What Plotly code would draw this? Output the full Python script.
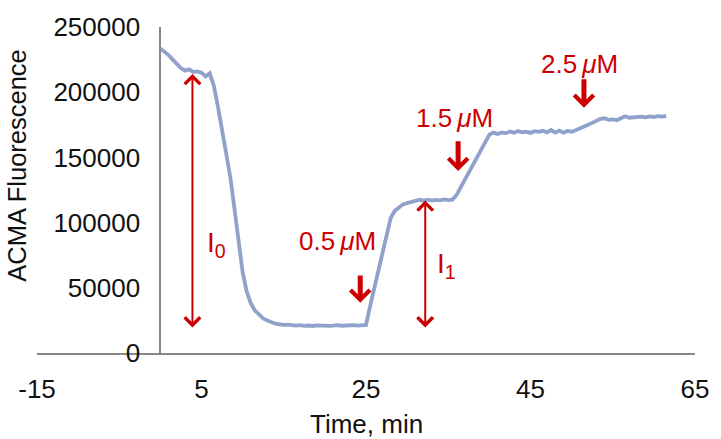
import plotly.graph_objects as go

# ---------------------------------------------------------------------------
# Dados
# ---------------------------------------------------------------------------
tempo = [
    0, 0.5, 1, 1.5, 2, 2.5, 3, 3.5, 4, 4.5, 5, 5.5, 6, 6.5, 7, 7.5, 8, 8.5, 9, 9.5,
    10, 10.5, 11, 11.5, 12, 12.5, 13, 13.5, 14, 14.5, 15, 15.5, 16, 16.5, 17, 17.5,
    18, 18.5, 19, 19.5, 20, 20.5, 21, 21.5, 22, 22.5, 23, 23.5, 24, 24.5, 25, 25.5,
    26, 26.5, 27, 27.5, 28, 28.5, 29, 29.5, 30, 30.5, 31, 31.5, 32, 32.5, 33, 33.5,
    34, 34.5, 35, 35.5, 36, 36.5, 37, 37.5, 38, 38.5, 39, 39.5, 40, 40.5, 41, 41.5,
    42, 42.5, 43, 43.5, 44, 44.5, 45, 45.5, 46, 46.5, 47, 47.5, 48, 48.5, 49, 49.5,
    50, 50.5, 51, 51.5, 52, 52.5, 53, 53.5, 54, 54.5, 55, 55.5, 56, 56.5, 57, 57.5,
    58, 58.5, 59, 59.5, 60, 60.5, 61, 61.5,
]
fluorescencia = [
    233500, 231000, 228500, 225000, 221500, 218500, 216500, 217500, 215500, 216000,
    215000, 212000, 214500, 205000, 189000, 171000, 155000, 135000, 111000, 86000,
    62000, 47000, 38000, 32500, 29000, 26500, 25000, 23500, 22500, 22000,
    21500, 21800, 21200, 21000, 21400, 20800, 21100, 20700, 21200, 20900,
    21300, 20800, 21000, 21400, 20900, 21200, 20800, 21300, 21000, 21400,
    21500, 36000, 50000, 64000, 78000, 92000, 103500, 109000, 112000, 114000,
    115000, 116000, 116500, 117500, 116800, 117600, 116900, 117400, 117000, 117800,
    117200, 117600, 121000, 127000, 133000, 139000, 145000, 151000, 157000, 163000,
    167500, 169000, 168000, 169200, 168600, 169800, 168900, 170200, 169300, 169800,
    168800, 170100, 169600, 170400, 169100, 171000, 169000, 170500, 168900, 170300,
    169700, 170800, 172000, 173500, 175000, 176500, 178000, 179500, 180000, 178800,
    179200, 178500, 180000, 181500, 180400, 180800, 180600, 181200, 180700, 181400,
    181000, 181600, 181300, 181800,
]

x_ticks = [-15, 5, 25, 45, 65]
y_ticks = [0, 50000, 100000, 150000, 200000, 250000]

# setas duplas I0 / I1: posição x, topo, base
setas_i_x = [3.9, 32.2]
setas_i_topo = [214000, 117000]
setas_i_base = [18500, 18500]
rotulos_i = ["I<sub>0</sub>", "I<sub>1</sub>"]
rotulos_i_x = [6.8, 34.8]
rotulos_i_y = [83000, 67000]

# adições de concentração: texto, posição do texto, seta (x, cauda, ponta)
conc_txt = ["0.5\u2009<i>\u03bc</i>M", "1.5\u2009<i>\u03bc</i>M", "2.5\u2009<i>\u03bc</i>M"]
conc_txt_x = [21.5, 35.7, 51.0]
conc_txt_y = [86000, 180000, 221300]
conc_seta_x = [24.3, 36.2, 51.5]
conc_seta_cauda = [60500, 163500, 211000]
conc_seta_ponta = [38500, 139500, 188000]

# ---------------------------------------------------------------------------
# Estilo
# ---------------------------------------------------------------------------
STYLE = {
    'linha': '#8FA2CC',
    'vermelho': '#CC0000',
    'eixo': '#888888',
    'texto': '#111111',
    'fonte': 'Liberation Sans, Arial, Helvetica, sans-serif',
}

fig = go.Figure()
fig.add_trace(go.Scatter(
    x=tempo, y=fluorescencia, mode='lines',
    line=dict(color=STYLE['linha'], width=3.8),
    hoverinfo='skip', showlegend=False,
))

anotacoes = []

# setas duplas (I0, I1) - só a seta, sem texto
for x, topo, base in zip(setas_i_x, setas_i_topo, setas_i_base):
    anotacoes.append(dict(
        x=x, y=topo, ax=x, ay=base, xref='x', yref='y', axref='x', ayref='y',
        text='', showarrow=True, arrowside='end+start',
        arrowhead=4, startarrowhead=4, arrowsize=1.5, startarrowsize=1.5,
        arrowwidth=2, arrowcolor=STYLE['vermelho'], font=dict(size=1),
    ))
for txt, x, y in zip(rotulos_i, rotulos_i_x, rotulos_i_y):
    anotacoes.append(dict(
        x=x, y=y, xref='x', yref='y', text=txt, showarrow=False,
        font=dict(size=28, color=STYLE['vermelho'], family=STYLE['fonte']),
    ))

# setas de adição (↓)
for x, cauda, ponta in zip(conc_seta_x, conc_seta_cauda, conc_seta_ponta):
    anotacoes.append(dict(
        x=x, y=ponta, ax=x, ay=cauda, xref='x', yref='y', axref='x', ayref='y',
        text='', showarrow=True, arrowhead=4, arrowsize=0.75,
        arrowwidth=5, arrowcolor=STYLE['vermelho'], font=dict(size=1),
    ))
for txt, x, y in zip(conc_txt, conc_txt_x, conc_txt_y):
    anotacoes.append(dict(
        x=x, y=y, xref='x', yref='y', text=txt, showarrow=False,
        font=dict(size=26, color=STYLE['vermelho'], family=STYLE['fonte']),
    ))

# títulos dos eixos
anotacoes.append(dict(
    x=-0.031, y=0.5735, xref='paper', yref='paper', text='ACMA Fluorescence',
    textangle=-90, showarrow=False, xanchor='center', yanchor='middle',
    font=dict(size=25.5, color=STYLE['texto'], family=STYLE['fonte']),
))
anotacoes.append(dict(
    x=0.5, y=-0.2176, xref='paper', yref='paper', text='Time, min',
    showarrow=False, xanchor='center', yanchor='middle',
    font=dict(size=26, color=STYLE['texto'], family=STYLE['fonte']),
))

fig.update_layout(
    width=721, height=439,
    margin=dict(l=37, r=17, t=13, b=86),
    plot_bgcolor='white', paper_bgcolor='white',
    font=dict(family=STYLE['fonte'], size=26, color=STYLE['texto']),
    showlegend=False,
    annotations=anotacoes,
)

fig.update_xaxes(
    range=[-15, 65], tickvals=x_ticks, ticktext=[str(v) for v in x_ticks],
    showgrid=False, zeroline=False, showline=True, linecolor=STYLE['eixo'], linewidth=2,
    ticks='', ticklabelstandoff=12, ticklabeloverflow='allow',
)
fig.update_yaxes(
    range=[0, 250000], tickvals=y_ticks, ticktext=[str(v) for v in y_ticks],
    showgrid=False, zeroline=False, showline=True, linecolor=STYLE['eixo'], linewidth=2,
    ticks='', anchor='free', position=0.1875, ticklabelstandoff=14,
    ticklabeloverflow='allow',
)

# sem margem do <body>, para a figura ocupar a janela inteira
fig.write_html("out.html", config={'displayModeBar': False},
               post_script="document.body.style.margin='0';")
